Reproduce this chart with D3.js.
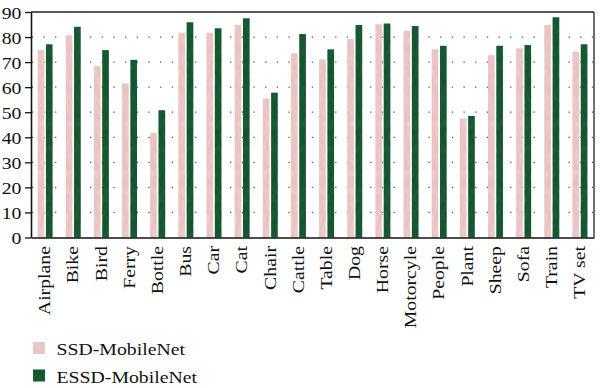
<!DOCTYPE html>
<html>
<head>
<meta charset="utf-8">
<script src="https://cdn.jsdelivr.net/npm/d3@7"></script>
<style>
  body { margin: 0; background: #fff; }
</style>
</head>
<body>
<div id="chart"></div>
<script>
//=========Data=========//
var categories = ["Airplane", "Bike", "Bird", "Ferry", "Bottle", "Bus", "Car", "Cat", "Chair", "Cattle",
  "Table", "Dog", "Horse", "Motorcyle", "People", "Plant", "Sheep", "Sofa", "Train", "TV set"];
var seriesNames = ["SSD-MobileNet", "ESSD-MobileNet"];
var ssdValues = [74.8, 80.7, 68.4, 61.5, 41.8, 81.7, 81.7, 84.8, 55.5, 73.5,
  71.1, 79.2, 85.1, 82.5, 75.1, 47.5, 72.8, 75.5, 84.8, 74.2];
var essdValues = [77.1, 84.1, 74.8, 70.9, 50.8, 85.9, 83.5, 87.5, 57.8, 81.2,
  75.1, 84.8, 85.4, 84.4, 76.5, 48.5, 76.5, 76.8, 87.9, 77.1];
var yTicks = [0, 10, 20, 30, 40, 50, 60, 70, 80, 90];
var gridTicks = [10, 20, 30, 40, 50, 60, 70, 80];
var colors = ["#e9c2c1", "#1e5b36"];

//=========SVG area and margins=========//
var svgWidth = 600;
var svgHeight = 388;
var margin = { top: 12, right: 6, bottom: 150.5, left: 31 };
var width = svgWidth - margin.left - margin.right;
var height = svgHeight - margin.top - margin.bottom;
var serif = "'Liberation Serif', 'Times New Roman', serif";
var stretch = 1.13; // text in the reference is a bit wider than Liberation Serif

var svg = d3.select("#chart").append("svg")
  .attr("width", svgWidth)
  .attr("height", svgHeight)
  .attr("font-family", serif);

// subtle marbled texture for bars: light spots on pink, dark spots on green
var defs = svg.append("defs");
function makeTexture(id, tone, alpha) {
  var f = defs.append("filter").attr("id", id)
    .attr("x", 0).attr("y", 0).attr("width", 1).attr("height", 1);
  f.append("feTurbulence")
    .attr("type", "fractalNoise")
    .attr("baseFrequency", "0.3 0.12")
    .attr("numOctaves", 2)
    .attr("seed", 7)
    .attr("result", "noise");
  f.append("feColorMatrix")
    .attr("in", "noise")
    .attr("type", "matrix")
    .attr("values", `0 0 0 0 ${tone}  0 0 0 0 ${tone}  0 0 0 0 ${tone}  ${alpha} 0 0 0 ${-alpha * 0.4}`)
    .attr("result", "spots");
  f.append("feComposite")
    .attr("in", "spots").attr("in2", "SourceGraphic").attr("operator", "in")
    .attr("result", "clipped");
  var m = f.append("feMerge");
  m.append("feMergeNode").attr("in", "SourceGraphic");
  m.append("feMergeNode").attr("in", "clipped");
}
makeTexture("tex0", 1, 0.4);
makeTexture("tex1", 0, 0.6);

var chartGroup = svg.append("g")
  .attr("transform", `translate(${margin.left}, ${margin.top})`);

//=========Scales=========//
var x0 = d3.scaleBand().domain(categories).range([0, width]);
var groupWidth = 15;
var x1 = d3.scaleBand().domain(seriesNames)
  .range([(x0.bandwidth() - groupWidth) / 2, (x0.bandwidth() + groupWidth) / 2])
  .paddingInner(0.2);
var y = d3.scaleLinear().domain([0, 90]).range([height, 0]);

//=========Dotted grid=========//
chartGroup.append("g")
  .selectAll("line")
  .data(gridTicks)
  .enter()
  .append("line")
  .attr("x1", 0.7)
  .attr("x2", width)
  .attr("y1", (d) => y(d))
  .attr("y2", (d) => y(d))
  .attr("stroke", "#555")
  .attr("stroke-width", 1.3)
  .attr("stroke-dasharray", "1.3,10.37");

//=========Bars=========//
var rows = categories.map((c, i) => ({ cat: c, vals: [ssdValues[i], essdValues[i]] }));

var groups = chartGroup.append("g")
  .selectAll("g")
  .data(rows)
  .enter()
  .append("g")
  .attr("transform", (d) => `translate(${x0(d.cat)}, 0)`);

groups.selectAll("rect")
  .data((d) => d.vals.map((v, k) => ({ key: seriesNames[k], value: v, k: k })))
  .enter()
  .append("rect")
  .attr("x", (d) => x1(d.key))
  .attr("y", (d) => y(d.value))
  .attr("width", x1.bandwidth())
  .attr("height", (d) => height - y(d.value))
  .attr("fill", (d) => colors[d.k])
  .attr("filter", (d) => `url(#tex${d.k})`);

//=========Frame and axes=========//
chartGroup.append("line")
  .attr("x1", 0).attr("x2", width).attr("y1", 0).attr("y2", 0)
  .attr("stroke", "#222").attr("stroke-width", 1.3);
chartGroup.append("line")
  .attr("x1", width).attr("x2", width).attr("y1", 0).attr("y2", height)
  .attr("stroke", "#222").attr("stroke-width", 1.3);

var leftAxis = d3.axisLeft(y).tickValues(yTicks).tickSize(6).tickPadding(3).tickSizeOuter(0);
var yAxis = chartGroup.append("g").call(leftAxis)
  .attr("font-family", serif)
  .attr("font-size", 17.5);
yAxis.select(".domain").attr("stroke", "#111").attr("stroke-width", 1.6);
yAxis.selectAll(".tick line").attr("stroke", "#111").attr("stroke-width", 1.3);
yAxis.selectAll(".tick text")
  .attr("x", null)
  .attr("dy", null)
  .attr("fill", "#111")
  .attr("dominant-baseline", "central")
  .attr("transform", `translate(-9.5, 0) scale(${stretch}, 1)`);

var bottomAxis = d3.axisBottom(x0).tickSize(0).tickSizeOuter(0);
var xAxis = chartGroup.append("g")
  .attr("transform", `translate(0, ${height})`)
  .call(bottomAxis)
  .attr("font-family", serif)
  .attr("font-size", 17.5);
xAxis.select(".domain").attr("stroke", "#111").attr("stroke-width", 1.6);
xAxis.selectAll(".tick text")
  .attr("x", null)
  .attr("y", null)
  .attr("dy", "0.3em")
  .attr("fill", "#111")
  .attr("text-anchor", "end")
  .attr("transform", `translate(0, 8.5) rotate(-90) scale(${stretch}, 1)`);

//=========Legend=========//
var legend = svg.append("g")
  .selectAll("g")
  .data(seriesNames)
  .enter()
  .append("g")
  .attr("transform", (d, i) => `translate(33, ${342 + i * 27.5})`);

legend.append("rect")
  .attr("width", 12)
  .attr("height", 12)
  .attr("fill", (d, i) => colors[i])
  .attr("filter", (d, i) => `url(#tex${i})`);

legend.append("text")
  .attr("font-size", 17.5)
  .attr("fill", "#111")
  .attr("transform", `translate(23.5, 13) scale(${stretch}, 1)`)
  .text((d) => d);
</script>
</body>
</html>
